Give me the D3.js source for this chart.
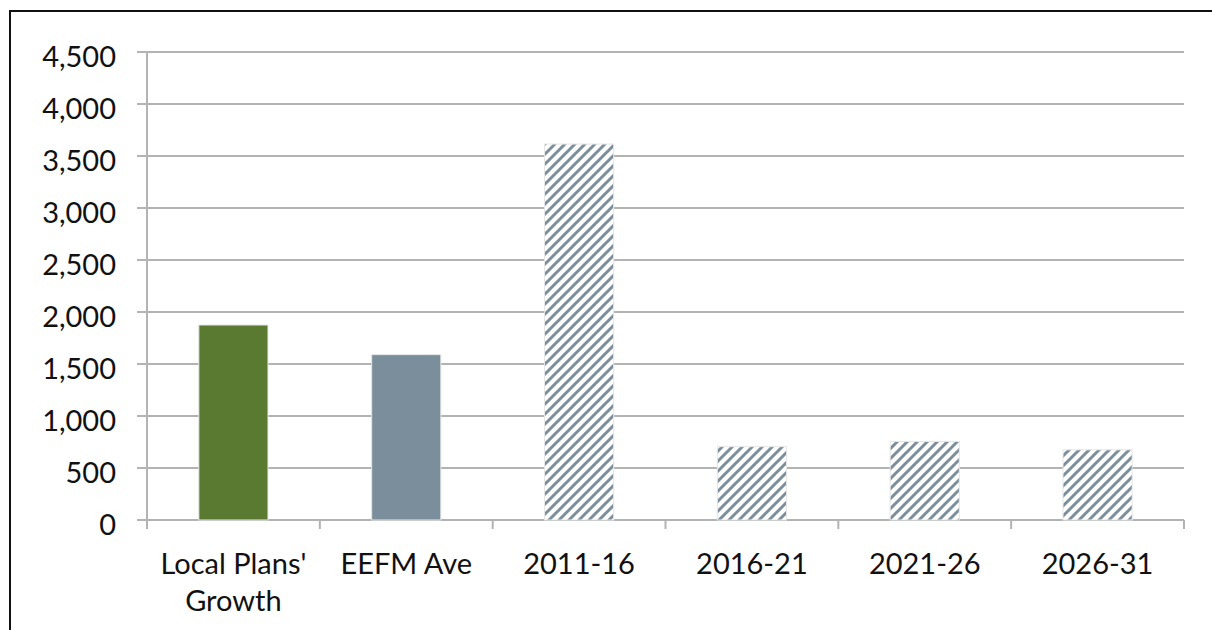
<!DOCTYPE html>
<html>
<head>
<meta charset="utf-8">
<script src="https://cdn.jsdelivr.net/npm/d3@7"></script>
<style>
  body { margin: 0; background: #fff; }
  svg { display: block; }
</style>
</head>
<body>
<div id="chart"></div>
<script>
// categories and values
var categories = ["Local Plans' Growth", "EEFM Ave", "2011-16", "2016-21", "2021-26", "2026-31"];
var labelLines = [["Local Plans'", "Growth"], ["EEFM Ave"], ["2011-16"], ["2016-21"], ["2021-26"], ["2026-31"]];
var values = [1875, 1590, 3615, 705, 755, 675];
var fills = ["#5b7a31", "#7b8e9b", "hatch", "hatch", "hatch", "hatch"];
var yTicks = [0, 500, 1000, 1500, 2000, 2500, 3000, 3500, 4000, 4500];

var W = 1212, H = 630;
var margin = { top: 52, right: 28, bottom: 110, left: 147 };
var width = W - margin.left - margin.right,
    height = H - margin.top - margin.bottom;

var svg = d3.select("#chart").append("svg")
    .attr("width", W)
    .attr("height", H);

// hatch pattern for the projected periods
var defs = svg.append("defs");
var pat = defs.append("pattern")
    .attr("id", "hatch")
    .attr("patternUnits", "userSpaceOnUse")
    .attr("width", 10)
    .attr("height", 10);
pat.append("rect").attr("width", 10).attr("height", 10).attr("fill", "#fff");
pat.append("path")
    .attr("d", "M-2,2 l4,-4 M0,10 l10,-10 M8,12 l4,-4")
    .attr("stroke", "#7b8e9b")
    .attr("stroke-width", 3);

// outer frame (top and left edges visible)
svg.append("path")
    .attr("d", "M10," + H + " L10,11 L" + W + ",11")
    .attr("fill", "none")
    .attr("stroke", "#111")
    .attr("stroke-width", 2);

var g = svg.append("g")
    .attr("transform", "translate(" + margin.left + "," + margin.top + ")");

var x = d3.scaleBand().domain(categories).range([0, width]).paddingInner(0.6).paddingOuter(0.3);
var y = d3.scaleLinear().domain([0, 4500]).range([height, 0]);

var font = "Lato, 'Open Sans', sans-serif";

// gridlines
g.append("g")
    .selectAll("line")
    .data(yTicks)
    .enter().append("line")
    .attr("x1", -10)
    .attr("x2", width)
    .attr("y1", function (d) { return y(d); })
    .attr("y2", function (d) { return y(d); })
    .attr("stroke", "#b3b3b3")
    .attr("stroke-width", 2);

// y axis line
g.append("line")
    .attr("x1", 0).attr("x2", 0)
    .attr("y1", 0).attr("y2", height)
    .attr("stroke", "#b3b3b3")
    .attr("stroke-width", 2);

// y tick labels
g.append("g")
    .selectAll("text")
    .data(yTicks)
    .enter().append("text")
    .attr("x", -31)
    .attr("y", function (d) { return y(d); })
    .attr("dy", "0.52em")
    .attr("text-anchor", "end")
    .style("font-family", font)
    .style("font-size", "29px")
    .style("fill", "#111")
    .text(function (d) { return d3.format(",")(d); });

// category boundary ticks
var step = width / categories.length;
g.append("g")
    .selectAll("line")
    .data(d3.range(categories.length + 1))
    .enter().append("line")
    .attr("x1", function (i) { return i * step; })
    .attr("x2", function (i) { return i * step; })
    .attr("y1", height)
    .attr("y2", height + 9)
    .attr("stroke", "#b3b3b3")
    .attr("stroke-width", 2);

// bars
g.append("g")
    .selectAll("rect")
    .data(values)
    .enter().append("rect")
    .attr("x", function (d, i) { return x(categories[i]); })
    .attr("y", function (d) { return y(d); })
    .attr("width", x.bandwidth())
    .attr("height", function (d) { return height - y(d); })
    .attr("fill", function (d, i) { return fills[i] === "hatch" ? "url(#hatch)" : fills[i]; })
    .attr("stroke", "#e6e6e6")
    .attr("stroke-width", 1);

// x labels
var xl = g.append("g")
    .selectAll("text")
    .data(labelLines)
    .enter().append("text")
    .attr("x", function (d, i) { return x(categories[i]) + x.bandwidth() / 2; })
    .attr("y", height + 54)
    .attr("text-anchor", "middle")
    .style("font-family", font)
    .style("font-size", "29px")
    .style("fill", "#111");
xl.selectAll("tspan")
    .data(function (d) { return d; })
    .enter().append("tspan")
    .attr("x", function () { return d3.select(this.parentNode).attr("x"); })
    .attr("dy", function (d, i) { return i === 0 ? 0 : 37; })
    .text(function (d) { return d; });
</script>
</body>
</html>
